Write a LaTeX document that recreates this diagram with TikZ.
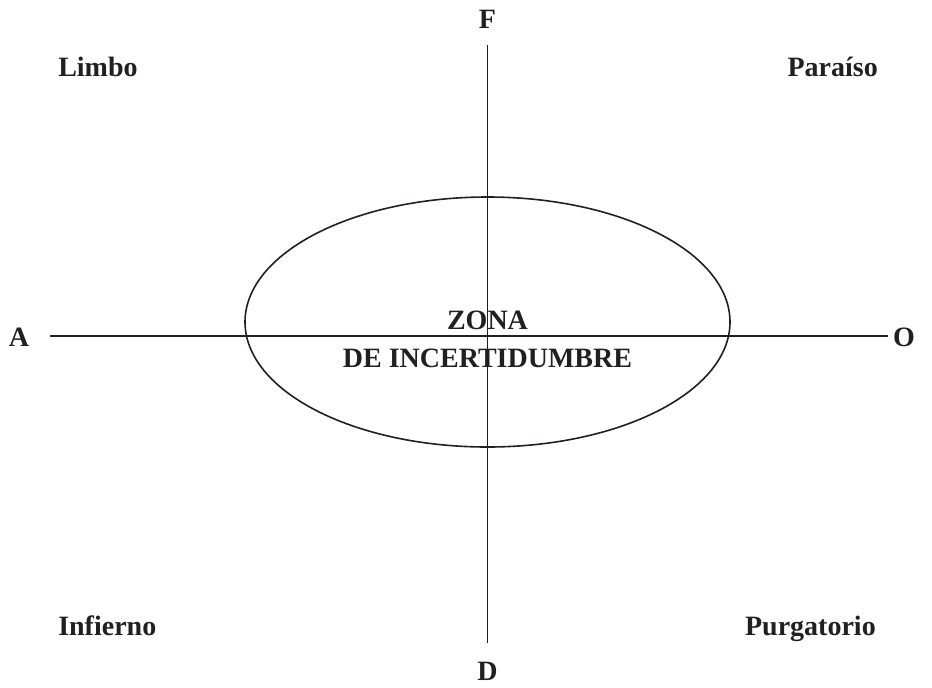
\documentclass[tikz,border=0pt]{standalone}
\usepackage{fontspec}
\setmainfont{Liberation Serif}
\usetikzlibrary{shapes.geometric}
\definecolor{ink}{HTML}{231F20}
\tikzset{
  lbl/.style={font=\fontsize{21}{38}\selectfont\bfseries, text=ink, inner sep=0pt},
  axis/.style={draw=ink, line width=0.9pt}
}

\begin{document}
\begin{tikzpicture}[x=0.75pt,y=-0.75pt]
            \useasboundingbox (0,0) rectangle (932,687);
            \coordinate (Ftop) at (487.5,45);
            \coordinate (Dbot) at (487.5,643);
            \coordinate (Aend) at (50,336);
            \coordinate (Oend) at (888,336);
            \node[lbl, anchor=base] (F) at (487.5,28) {F};
            \node[lbl, anchor=base] (D) at (487.5,680) {D};
            \node[lbl, anchor=base] (A) at (19,346) {A};
            \node[lbl, anchor=base] (O) at (904,346) {O};
            \node[lbl, anchor=base west] (L) at (58,76) {Limbo};
            \node[lbl, anchor=base east] (P) at (878,76) {Paraíso};
            \node[lbl, anchor=base west] (I) at (58,635) {Infierno};
            \node[lbl, anchor=base east] (G) at (876,635) {Purgatorio};
            \draw[axis] (Ftop) -- (Dbot);
            \draw[axis] (Aend) -- (Oend);
            \node[draw=ink, line width=1.2pt, ellipse, minimum width=485*0.75pt, minimum height=250*0.75pt, inner sep=0pt] (Z) at (487.5,322) {};
            \node[lbl, anchor=base] (Z1) at (487.5,329) {ZONA};
            \node[lbl, anchor=base] (Z2) at (487.5,367) {DE INCERTIDUMBRE};
        \end{tikzpicture}
\end{document}
